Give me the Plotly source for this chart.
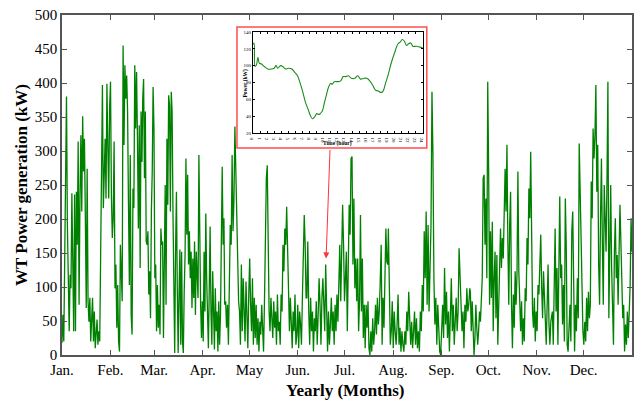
import numpy as np
import plotly.graph_objects as go

# ---------------- data ----------------
month_days = [0, 31, 59, 90, 120, 151, 181, 212, 243, 273, 304, 334]
month_labels = ["Jan.", "Feb.", "Mar.", "Apr.", "May", "Jun.", "Jul.",
                "Aug.", "Sep.", "Oct.", "Nov.", "Dec."]
y_ticks = [0, 50, 100, 150, 200, 250, 300, 350, 400, 450, 500]

# day-of-year span covered by each block of readings
seg_bounds = [(0.0, 51.2), (51.7, 103.7), (104.2, 156.3), (156.8, 208.6),
              (209.0, 261.1), (261.5, 313.6), (314.0, 365.0)]

power_jan_feb = [18, 59, 20, 182, 240, 380, 191, 89, 35, 118, 98, 238, 162, 35, 236, 35,
                 240, 162, 314, 74, 230, 323, 211, 351, 270, 318, 201, 69, 274, 79, 49,
                 84, 20, 74, 84, 20, 64, 10, 45, 52, 15, 35, 20, 201, 270, 397, 216, 265,
                 318, 230, 399, 309, 230, 363, 402, 235, 172, 201, 314, 98, 133, 40, 103,
                 20, 5, 162, 123, 79, 455, 309, 426, 377, 411, 358, 221, 103, 294, 59, 30,
                 245, 216, 426, 333, 416, 318, 186, 338, 128, 358, 284]
power_feb_apr = [377, 406, 260, 358, 167, 162, 182, 89, 123, 54, 211, 270, 394, 333, 113,
                 133, 35, 103, 40, 74, 30, 186, 162, 167, 25, 123, 250, 74, 318, 221, 382,
                 367, 211, 387, 358, 211, 64, 3, 152, 240, 98, 3, 89, 155, 15, 152, 20, 3,
                 93, 147, 289, 177, 265, 133, 182, 113, 152, 69, 142, 84, 167, 59, 152,
                 103, 84, 294, 162, 74, 25, 79, 20, 152, 64, 208, 113, 25, 10, 98, 189, 64,
                 15, 123, 40, 8, 98, 35, 64, 5, 79, 15, 59, 186, 277, 162, 201]
power_apr_jun = [74, 79, 40, 74, 15, 108, 191, 162, 294, 182, 230, 336, 270, 186, 162, 79,
                 64, 15, 133, 35, 113, 64, 20, 108, 49, 10, 89, 142, 74, 35, 113, 15, 84,
                 25, 74, 15, 54, 5, 49, 30, 74, 35, 5, 79, 186, 260, 279, 162, 64, 35, 84,
                 54, 25, 79, 40, 64, 15, 89, 35, 49, 15, 89, 64, 162, 123, 186, 162, 218,
                 137, 74, 35, 84, 54, 10, 64, 35, 89, 15, 30, 74, 10, 64, 45, 15, 84, 162,
                 206, 162, 84]
power_jun_jul = [84, 167, 64, 15, 84, 35, 64, 5, 54, 35, 79, 15, 59, 113, 74, 15, 84, 113,
                 74, 35, 133, 84, 5, 64, 15, 45, 84, 35, 64, 15, 74, 35, 89, 49, 103, 162,
                 79, 152, 221, 162, 79, 113, 152, 35, 162, 221, 177, 289, 292, 133, 230, 98,
                 142, 79, 142, 35, 79, 206, 64, 142, 25, 74, 10, 74, 40, 79, 10, 0, 35, 5,
                 54, 15, 35, 74, 30, 84, 45, 64, 108, 162, 15, 84, 40, 123, 186, 137, 133]
power_aug_sep = [186, 64, 15, 35, 79, 10, 64, 35, 15, 45, 89, 15, 40, 5, 35, 15, 5, 35, 15,
                 64, 35, 93, 64, 15, 49, 10, 35, 64, 15, 54, 10, 35, 5, 64, 35, 103, 64,
                 182, 113, 211, 74, 191, 64, 162, 191, 387, 294, 113, 45, 84, 15, 74, 35, 5,
                 0, 35, 74, 25, 128, 45, 93, 25, 64, 5, 84, 113, 35, 74, 15, 54, 84, 35,
                 64, 157, 123, 79, 35, 64, 10, 74, 49, 98, 64, 74, 98]
power_sep_nov = [93, 35, 79, 15, 0, 25, 74, 40, 15, 35, 64, 49, 103, 113, 260, 265, 162,
                 230, 113, 402, 270, 74, 182, 84, 196, 35, 113, 152, 54, 147, 15, 64, 123,
                 186, 128, 172, 142, 230, 274, 211, 309, 167, 74, 191, 240, 74, 10, 89, 40,
                 123, 74, 118, 270, 123, 64, 35, 79, 15, 54, 20, 98, 79, 172, 133, 245, 201,
                 299, 152, 64, 40, 84, 20, 64, 35, 103, 89, 157, 177, 98, 54, 123, 74, 35,
                 15, 74, 133, 45, 15, 49, 64]
power_nov_dec = [64, 15, 93, 186, 64, 128, 15, 147, 233, 113, 133, 45, 103, 20, 230, 162,
                 15, 5, 35, 74, 20, 182, 211, 123, 5, 74, 35, 113, 54, 311, 245, 162, 74,
                 35, 15, 49, 20, 84, 35, 93, 54, 74, 255, 201, 333, 289, 323, 397, 240, 309,
                 133, 74, 201, 289, 162, 74, 250, 172, 152, 260, 402, 54, 172, 250, 128, 45,
                 15, 152, 201, 113, 147, 74, 133, 221, 167, 123, 54, 74, 5, 45, 15, 64, 25,
                 64, 103, 201, 152]

power_blocks = [power_jan_feb, power_feb_apr, power_apr_jun, power_jun_jul,
                power_aug_sep, power_sep_nov, power_nov_dec]

# inset: one day profile
inset_hour = [0, 0.15, 0.3, 0.5, 0.7, 0.9, 1.2, 1.6, 2.1, 2.6, 3.0, 3.25, 3.5, 3.9, 4.2,
              4.6, 5.0, 5.5, 5.9, 6.3, 6.6, 7.0, 7.4, 7.8, 8.1, 8.4, 8.7, 9.0, 9.3, 9.5,
              9.8, 10.1, 10.4, 10.7, 11.0, 11.2, 11.5, 12.0, 12.4, 12.75, 13.1, 13.5,
              13.9, 14.4, 14.8, 15.2, 15.7, 16.1, 16.5, 16.9, 17.3, 17.7, 18.1, 18.4,
              18.7, 19.1, 19.5, 20.0, 20.5, 20.8, 21.1, 21.4, 21.7, 22.0, 22.3, 22.6,
              23.1, 23.6, 24.0]
inset_power = [125, 127, 99, 101, 110, 103, 102, 99, 96, 96, 97, 100, 97, 100, 99,
               96, 97, 96, 92, 88, 81, 70, 57, 48, 41, 37, 39, 43, 42, 43,
               46, 56, 66, 75, 79, 78, 81, 81, 82, 87, 87, 88,
               85, 85, 88, 84, 85, 85, 82, 77, 71, 70, 68, 70,
               78, 89, 102, 115, 126, 128, 131, 129, 124, 126, 127, 123,
               123, 122, 121]

# ---------------- build ----------------
xs, ys = [], []
for (a, b), vals in zip(seg_bounds, power_blocks):
    xs.extend(np.linspace(a, b, len(vals)).tolist())
    ys.extend(vals)

GREEN = "#008000"
SERIF = "Liberation Serif, Times New Roman, serif"
AX = "#555555"

fig = go.Figure()
fig.add_trace(go.Scatter(x=xs, y=ys, mode="lines",
                         line=dict(color=GREEN, width=1.3),
                         xaxis="x", yaxis="y", showlegend=False, hoverinfo="skip"))
fig.add_trace(go.Scatter(x=inset_hour, y=inset_power, mode="lines",
                         line=dict(color="#1a8c1a", width=1.1, shape="spline"),
                         xaxis="x2", yaxis="y2", showlegend=False, hoverinfo="skip"))

# inset frame (red box)
fig.add_shape(type="rect", xref="paper", yref="paper",
              x0=0.307, x1=0.640, y0=0.609, y1=0.965,
              line=dict(color="#ff4d4d", width=1.5), fillcolor="white", layer="below")

# arrow from inset to the day it shows
fig.add_annotation(x=169.1, y=142, xref="x", yref="y", text="", showarrow=True,
                   ax=4, ay=-110, axref="pixel", ayref="pixel",
                   arrowcolor="#ff3333", arrowwidth=1, arrowhead=2, arrowsize=1.2)

# axis titles
fig.add_annotation(text="<b>Yearly (Months)</b>", xref="paper", yref="paper",
                   x=0.497, y=-0.103, yanchor="middle", xanchor="center",
                   showarrow=False, font=dict(size=17))
fig.add_annotation(text="<b>WT Power generation (kW)</b>", xref="paper", yref="paper",
                   x=-0.072, y=0.5, textangle=-90, xanchor="center", yanchor="middle",
                   showarrow=False, font=dict(size=17))
fig.add_annotation(text="<b>Time (hour)</b>", xref="paper", yref="paper",
                   x=0.484, y=0.622, xanchor="center", yanchor="middle",
                   showarrow=False, font=dict(size=5.5))
fig.add_annotation(text="<b>Power (kW)</b>", xref="paper", yref="paper",
                   x=0.322, y=0.80, textangle=-90, xanchor="center", yanchor="middle",
                   showarrow=False, font=dict(size=5.5))

fig.update_layout(
    width=638, height=402,
    margin=dict(l=62, r=6, t=15, b=47, autoexpand=False),
    paper_bgcolor="white", plot_bgcolor="white",
    font=dict(family=SERIF, color="black"),
    xaxis=dict(range=[0, 365], tickmode="array", tickvals=month_days,
               ticktext=month_labels, ticks="inside", ticklen=5, tickcolor=AX,
               showline=True, linecolor=AX, linewidth=1.5, mirror="ticks",
               showgrid=False, zeroline=False, tickfont=dict(size=15), automargin=False),
    yaxis=dict(range=[0, 500], tickmode="array", tickvals=y_ticks,
               ticks="inside", ticklen=5, tickcolor=AX,
               showline=True, linecolor=AX, linewidth=1.5, mirror="ticks",
               showgrid=False, zeroline=False, tickfont=dict(size=15), automargin=False),
    xaxis2=dict(domain=[0.335, 0.633], anchor="y2", range=[0, 24], dtick=1,
                ticks="inside", ticklen=2, tickcolor="black", showline=True,
                linecolor="black", linewidth=1, mirror="ticks", showgrid=False,
                zeroline=False, tickfont=dict(size=5), automargin=False),
    yaxis2=dict(domain=[0.653, 0.95], anchor="x2", range=[20, 140], dtick=20,
                ticks="inside", ticklen=2, tickcolor="black", showline=True,
                linecolor="black", linewidth=1, mirror="ticks", showgrid=False,
                zeroline=False, tickfont=dict(size=5), automargin=False),
)

fig.write_html("out.html", config={"displayModeBar": False},
               post_script="document.body.style.margin='0px';")
